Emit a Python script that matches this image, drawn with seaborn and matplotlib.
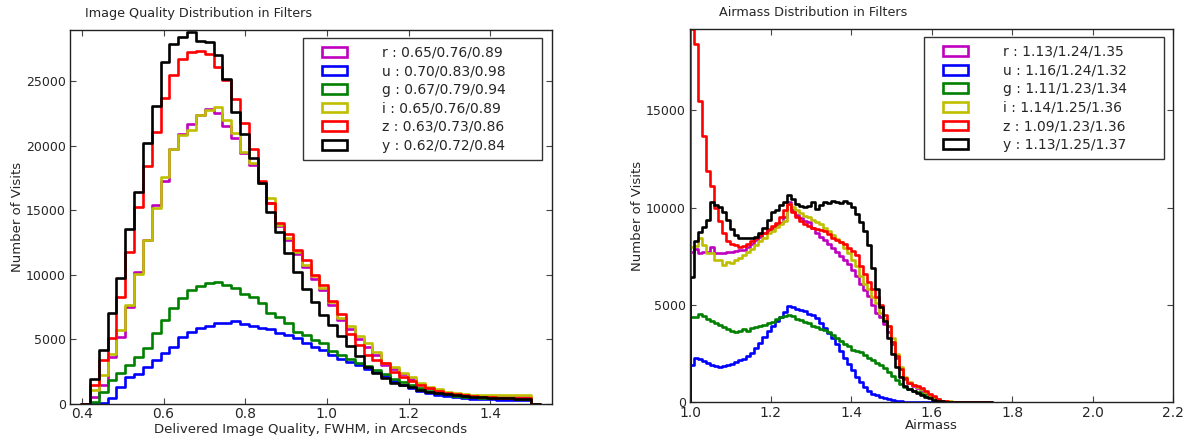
import numpy as np
import pandas as pd
import matplotlib
matplotlib.use("Agg")
import matplotlib.pyplot as plt
from matplotlib.patches import Patch
from matplotlib.legend_handler import HandlerPatch
import seaborn as sns

# filters in legend order, with classic matplotlib colours
filters = ["r", "u", "g", "i", "z", "y"]
colors = ["#bf00bf", "#0000ff", "#008000", "#bfbf00", "#ff0000", "#000000"]

# ---- image quality histograms (50 bins, 0.42 - 1.50 arcsec) ----
iq_r = [550, 1450, 3650, 5200, 7550, 10250, 12700, 15400, 17300, 19750,
        20900, 21700, 22400, 22850, 22550, 21550, 20650, 19450, 18500, 17150,
        15600, 13800, 12700, 11600, 10600, 9700, 8800, 7700, 6500, 5800,
        5000, 4400, 3800, 3050, 2750, 2300, 1950, 1550, 1250, 1050,
        880, 760, 700, 650, 620, 600, 600, 590, 580, 580]
iq_u = [50, 100, 440, 1340, 2120, 2330, 2890, 3410, 3930, 4440,
        5170, 5600, 5870, 6050, 6250, 6300, 6460, 6200, 6050, 5920,
        5810, 5530, 5350, 5090, 4750, 4440, 4190, 3800, 3500, 3250,
        3000, 2750, 2450, 2150, 1800, 1500, 1250, 1000, 860, 720,
        600, 520, 460, 420, 390, 360, 340, 320, 300, 280]
iq_g = [180, 960, 1860, 2380, 3020, 3670, 4320, 5480, 6510, 7410,
        8190, 8840, 9150, 9350, 9480, 9220, 8960, 8530, 8320, 7800,
        7030, 6770, 6250, 5610, 5350, 4960, 4700, 4100, 3800, 3450,
        3200, 2950, 2650, 2300, 1950, 1700, 1450, 1250, 1000, 870,
        740, 650, 580, 540, 500, 470, 450, 430, 420, 400]
iq_i = [1100, 2250, 3900, 5700, 7650, 10100, 12700, 15200, 17600, 19750,
        20850, 21250, 22400, 22800, 23000, 22000, 21000, 19550, 18700, 17150,
        15950, 13900, 12900, 11800, 10800, 9900, 9000, 7900, 6700, 6050,
        5250, 4700, 4000, 3200, 2900, 2400, 2100, 1650, 1350, 1150,
        960, 830, 750, 700, 700, 700, 700, 690, 690, 680]
iq_z = [1500, 3400, 5150, 8300, 11800, 15300, 18450, 21100, 23750, 25500,
        26700, 27250, 27350, 27100, 26150, 25100, 23600, 21750, 19800, 17250,
        15600, 14000, 13200, 11950, 11150, 10000, 9200, 8000, 7000, 5400,
        4600, 3800, 3400, 3150, 2500, 2100, 1750, 1480, 1220, 1030,
        880, 750, 700, 620, 580, 520, 500, 480, 470, 460]
iq_y = [1950, 4200, 7050, 9750, 13600, 16400, 20250, 23100, 26500, 27900,
        28450, 28850, 28150, 28050, 27050, 25150, 22600, 20900, 19100, 17150,
        14850, 13350, 11700, 10250, 8950, 7900, 6900, 6100, 5300, 4500,
        3700, 2900, 2400, 2000, 1650, 1450, 1300, 1100, 950, 830,
        750, 670, 620, 570, 520, 490, 460, 440, 410, 360]
iq_labels = ["r : 0.65/0.76/0.89", "u : 0.70/0.83/0.98", "g : 0.67/0.79/0.94",
             "i : 0.65/0.76/0.89", "z : 0.63/0.73/0.86", "y : 0.62/0.72/0.84"]

# ---- airmass histograms (74 bins, 1.00 - 1.74) ----
am_r = [7740, 7900, 7650, 7700, 7700, 8000, 7650, 7650, 7650, 7700,
        7740, 7760, 7820, 7850, 8000, 8150, 8340, 8500, 8680, 8850,
        8940, 9100, 9200, 9500, 10300, 9900, 9650, 9450, 9300, 9250,
        8950, 8700, 8500, 8340, 8150, 7950, 7750, 7500, 7300, 7100,
        6800, 6500, 6100, 5750, 5450, 5000, 4600, 4400, 4000, 3600,
        3000, 2300, 1700, 1200, 1000, 850, 750, 650, 500, 380,
        250, 150, 80, 50, 40, 30, 25, 20, 20, 15,
        10, 10, 5, 5]
am_u = [1900, 2300, 2250, 2100, 2000, 1900, 1850, 1800, 1850, 1900,
        1950, 2050, 2150, 2250, 2400, 2550, 2800, 3050, 3350, 3650,
        3900, 4200, 4400, 4650, 4950, 4880, 4780, 4750, 4700, 4550,
        4500, 4350, 4100, 3800, 3550, 3300, 3000, 2650, 2300, 1950,
        1650, 1300, 1050, 800, 600, 450, 350, 280, 220, 170,
        120, 90, 60, 40, 25, 15, 10, 5, 0, 0,
        0, 0, 0, 0, 0, 0, 0, 0, 0, 0,
        0, 0, 0, 0]
am_g = [4400, 4400, 4550, 4450, 4300, 4200, 4050, 3950, 3860, 3760,
        3680, 3600, 3640, 3750, 3690, 3800, 3850, 3920, 3980, 4050,
        4150, 4300, 4400, 4450, 4500, 4420, 4300, 4230, 4150, 4060,
        3930, 3850, 3750, 3700, 3600, 3450, 3300, 3150, 3020, 2900,
        2700, 2650, 2600, 2450, 2300, 2150, 2000, 1900, 1750, 1550,
        1350, 1150, 950, 800, 680, 580, 520, 460, 400, 330,
        250, 150, 80, 40, 20, 10, 0, 0, 0, 0,
        0, 0, 0, 0]
am_i = [8000, 8050, 8430, 8080, 7650, 7650, 7320, 7320, 7060, 7230,
        7150, 7300, 7400, 7570, 7740, 7900, 8080, 8300, 8430, 8700,
        8800, 9030, 9150, 9300, 10200, 10050, 9900, 9750, 9600, 9500,
        9370, 9250, 9150, 8950, 8800, 8600, 8400, 8250, 7950, 7650,
        7300, 7000, 6500, 6100, 5800, 5400, 5100, 4600, 4300, 3900,
        3300, 2500, 1800, 1300, 1050, 900, 800, 700, 550, 400,
        280, 160, 90, 55, 45, 35, 30, 25, 20, 15,
        15, 10, 10, 5]
am_z = [19170, 18400, 15500, 13700, 11900, 11100, 10000, 9300, 8700, 8300,
        8150, 8100, 8000, 8050, 8150, 8300, 8450, 8600, 8700, 8900,
        9050, 9200, 9500, 9900, 10200, 9800, 9500, 9300, 9150, 9050,
        8970, 8900, 8850, 8780, 8650, 8460, 8350, 8250, 8120, 7950,
        7800, 7550, 7000, 6600, 6200, 5800, 5400, 5000, 4500, 3900,
        3100, 2400, 1700, 1250, 1000, 900, 820, 750, 600, 450,
        300, 150, 80, 50, 40, 35, 30, 30, 25, 25,
        20, 20, 15, 10]
am_y = [6450, 8300, 8750, 9000, 9350, 10300, 10150, 10050, 9800, 9350,
        8900, 8600, 8450, 8430, 8430, 8450, 8500, 8700, 8950, 9350,
        9800, 9880, 10150, 10300, 10650, 10450, 10200, 10100, 10050, 10100,
        10300, 9950, 10150, 10300, 10250, 10350, 10300, 10250, 10350, 10250,
        10050, 9700, 9250, 8800, 8100, 6900, 5800, 4900, 4200, 3300,
        2500, 1800, 1300, 850, 700, 600, 500, 400, 280, 200,
        120, 80, 50, 40, 35, 30, 30, 25, 20, 20,
        15, 10, 10, 5]
am_labels = ["r : 1.13/1.24/1.35", "u : 1.16/1.24/1.32", "g : 1.11/1.23/1.34",
             "i : 1.14/1.25/1.36", "z : 1.09/1.23/1.36", "y : 1.13/1.25/1.37"]

iq_edges = np.linspace(0.42, 1.50, 51)
am_edges = np.linspace(1.00, 1.74, 75)


def step_hists(ax, edges, series):
    # pad one empty bin each side so the steps drop back to zero at the ends
    width = edges[1] - edges[0]
    ext = np.concatenate([[edges[0] - width], edges, [edges[-1] + width]])
    centers = (ext[:-1] + ext[1:]) / 2
    for counts, color in zip(series, colors):
        df = pd.DataFrame({"x": centers,
                           "w": np.concatenate([[0], counts, [0]]).astype(float)})
        sns.histplot(data=df, x="x", weights="w", bins=list(ext), element="step",
                     fill=False, color=color, linewidth=1.9, ax=ax)


def add_legend(ax, labels, anchor):
    handles = [Patch(facecolor="none", edgecolor=c, linewidth=1.9) for c in colors]
    ax.legend(handles, labels, loc="upper left", bbox_to_anchor=anchor,
              mode="expand", borderaxespad=0, fontsize=10, frameon=True,
              fancybox=False, edgecolor="#333333", framealpha=1,
              borderpad=0.55, labelspacing=0.33, handlelength=2.62,
              handleheight=0.7, handletextpad=2.5,
              handler_map={Patch: HandlerPatch(xpad=0.82)})


sns.set_style("ticks", {"xtick.direction": "in", "ytick.direction": "in",
                        "axes.edgecolor": "#222222"})
plt.rcParams["font.family"] = ["DejaVu Sans"]

W, H = 1187, 437
fig = plt.figure(figsize=(W / 100, H / 100), dpi=100)

ax1 = fig.add_axes([70 / W, 1 - 404 / H, 482 / W, 374 / H])
ax2 = fig.add_axes([690 / W, 1 - 402.3 / H, 483.3 / W, 373 / H])

step_hists(ax1, iq_edges, [iq_r, iq_u, iq_g, iq_i, iq_z, iq_y])
step_hists(ax2, am_edges, [am_r, am_u, am_g, am_i, am_z, am_y])

ax1.set_xlim(0.371, 1.551)
ax1.set_ylim(0, 28985)
ax1.set_xticks([0.4, 0.6, 0.8, 1.0, 1.2, 1.4])
ax1.set_yticks([0, 5000, 10000, 15000, 20000, 25000])
ax1.set_xlabel("Delivered Image Quality, FWHM, in Arcseconds", fontsize=9.5, labelpad=1)
ax1.set_ylabel("Number of Visits", fontsize=9.5, labelpad=1.5)

ax2.set_xlim(1.0, 2.2)
ax2.set_ylim(0, 19170)
ax2.set_xticks([1.0, 1.2, 1.4, 1.6, 1.8, 2.0, 2.2])
ax2.set_yticks([0, 5000, 10000, 15000])
ax2.set_xlabel("Airmass", fontsize=9.5, labelpad=-0.5)
ax2.set_ylabel("Number of Visits", fontsize=9.5, labelpad=1.5)

for ax in (ax1, ax2):
    ax.tick_params(direction="in", top=True, right=True, length=4,
                   pad=3, color="#444444")
    ax.tick_params(axis="x", labelsize=10, pad=2.5)
    ax.tick_params(axis="y", labelsize=9)
    for sp in ax.spines.values():
        sp.set_linewidth(1)
    ax.xaxis.set_major_formatter(matplotlib.ticker.FormatStrFormatter("%.1f"))

add_legend(ax1, iq_labels, (0.4834, 0.9786, 0.4956, 0.0))
add_legend(ax2, am_labels, (0.4848, 0.9786, 0.4959, 0.0))

fig.text(85 / W, 1 - 14 / H, "Image Quality Distribution in Filters",
         fontsize=9.2, ha="left", va="center")
fig.text(719 / W, 1 - 13 / H, "Airmass Distribution in Filters",
         fontsize=9.2, ha="left", va="center")

fig.savefig("out.png", dpi=100)
